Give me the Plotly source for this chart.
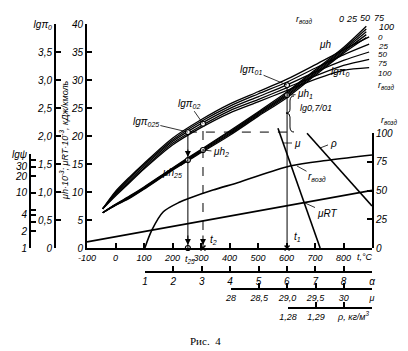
import math
import plotly.graph_objects as go

W, H = 408, 351

# ---------------- data ----------------
T_TICKS = [-100, 0, 100, 200, 300, 400, 500, 600, 700, 800]
T_TICKTEXT = ['-100', '0', '100', '200', '300', '400', '500', '600', '700', '800']
MUH_TICKS = [0, 5, 10, 15, 20, 25, 30, 35, 40]
MUH_TICKTEXT = ['0', '5', '10', '15', '20', '25', '30', '35', '40']
LGPI_TICKS = [0, 0.5, 1.0, 1.5, 2.0, 2.5, 3.0, 3.5, 4.0]
LGPI_TICKTEXT = ['0', '0,5', '1,0', '1,5', '2,0', '2,5', '3,0', '3,5', 'lgπ<sub>0</sub>']
PSI_TICKS = [1, 2, 3, 4, 5, 10, 20, 30, 40, 51]
PSI_TICKTEXT = ['1', '2', ' ', '4', ' ', '10', '20', '30', ' ', 'lgψ']
R_TICKS = [0, 25, 50, 75, 100]
R_TICKTEXT = ['0', '25', '50', '75', '100']
ALPHA_TICKS = [1, 2, 3, 4, 5, 6, 7, 8, 9]
ALPHA_TICKTEXT = ['1', '2', '3', '4', '5', '6', '7', '8', 'α']
MU_TICKS = [28, 28.5, 29, 29.5, 30, 30.5]
MU_TICKTEXT = ['28', '28,5', '29,0', '29,5', '30', 'μ']
RHO_TICKS = [1.28, 1.29, 1.30, 1.31]
RHO_TICKTEXT = ['1,28', '1,29', ' ', ' ']

R_LABELS = ['0', '25', '50', '75', '100']

T_LGPI = [-45, 0, 50, 100, 200, 300, 400, 500, 600, 700, 800, 890]
LGPI_R0 = [0.70, 1.01, 1.27, 1.51, 1.96, 2.29, 2.57, 2.79, 3.01, 3.27, 3.54, 3.77]
LGPI_R25 = [0.70, 0.99, 1.25, 1.49, 1.93, 2.26, 2.53, 2.75, 2.96, 3.21, 3.45, 3.64]
LGPI_R50 = [0.70, 0.97, 1.22, 1.46, 1.90, 2.22, 2.49, 2.70, 2.91, 3.14, 3.35, 3.50]
LGPI_R75 = [0.70, 0.95, 1.19, 1.43, 1.87, 2.18, 2.45, 2.65, 2.86, 3.07, 3.26, 3.37]
LGPI_R100 = [0.70, 0.93, 1.17, 1.41, 1.84, 2.15, 2.41, 2.61, 2.81, 3.01, 3.17, 3.22]

T_MUH = [-45, 0, 50, 100, 200, 300, 400, 500, 600, 700, 800, 880]
MUH_R0 = [6.3, 7.8, 9.3, 10.9, 14.3, 17.6, 20.9, 24.3, 27.8, 31.8, 35.8, 39.6]
MUH_R25 = [6.3, 7.75, 9.2, 10.8, 14.2, 17.45, 20.7, 24.1, 27.55, 31.55, 35.55, 39.1]
MUH_R50 = [6.3, 7.7, 9.1, 10.7, 14.1, 17.3, 20.5, 23.9, 27.3, 31.3, 35.3, 38.6]
MUH_R75 = [6.3, 7.65, 9.0, 10.6, 14.0, 17.15, 20.3, 23.7, 27.05, 31.05, 35.05, 38.1]
MUH_R100 = [6.3, 7.6, 8.9, 10.5, 13.9, 17.0, 20.1, 23.5, 26.8, 30.8, 34.8, 37.6]

T_R_AIR = [103, 128, 167, 226, 261, 342, 437, 612, 753, 900]
R_AIR = [0, 15.7, 31.3, 40, 43.5, 50.4, 57.4, 71.3, 76.5, 80.9]

T_MURT = [-100, 900]
MURT = [1.1, 10.3]
T_MU = [570, 718]
MU_V = [21.4, 0]
T_RHO = [672, 900]
RHO_V = [20.5, 7.5]

T25, T2, T1 = 254, 307, 602
LGPI025, LGPI02, LGPI01 = 2.07, 2.22, 2.91
MUH25, MUH2, MUH1 = 15.7, 17.5, 27.3

# ---------------- figure ----------------
BLACK = 'black'
FONT = dict(family='Liberation Sans', size=10, color=BLACK, style='italic')
TFONT = dict(FONT, size=9)
LW = 1.3

fig = go.Figure()

for vals in [LGPI_R0, LGPI_R25, LGPI_R50, LGPI_R75, LGPI_R100]:
    fig.add_trace(go.Scatter(x=T_LGPI, y=vals, mode='lines', xaxis='x', yaxis='y2',
                             line=dict(color=BLACK, width=LW, shape='spline', smoothing=0.8),
                             hoverinfo='skip', showlegend=False))
for vals in [MUH_R0, MUH_R25, MUH_R50, MUH_R75, MUH_R100]:
    fig.add_trace(go.Scatter(x=T_MUH, y=vals, mode='lines', xaxis='x', yaxis='y',
                             line=dict(color=BLACK, width=LW, shape='spline', smoothing=0.8),
                             hoverinfo='skip', showlegend=False))

fig.add_trace(go.Scatter(x=T_R_AIR, y=R_AIR, mode='lines', xaxis='x', yaxis='y4',
                         line=dict(color=BLACK, width=1.6, shape='spline', smoothing=0.9),
                         hoverinfo='skip', showlegend=False))
for tx, ty in [(T_MURT, MURT), (T_MU, MU_V), (T_RHO, RHO_V)]:
    fig.add_trace(go.Scatter(x=tx, y=ty, mode='lines', xaxis='x', yaxis='y',
                             line=dict(color=BLACK, width=1.6),
                             hoverinfo='skip', showlegend=False))

# construction lines
fig.add_trace(go.Scatter(x=[T25, T25], y=[0, LGPI025], mode='lines', xaxis='x', yaxis='y2',
                         line=dict(color=BLACK, width=1), hoverinfo='skip', showlegend=False))
fig.add_trace(go.Scatter(x=[T2, T2], y=[0, LGPI02], mode='lines', xaxis='x', yaxis='y2',
                         line=dict(color=BLACK, width=1, dash='dash'), hoverinfo='skip', showlegend=False))
fig.add_trace(go.Scatter(x=[T1, T1], y=[0, LGPI01], mode='lines', xaxis='x', yaxis='y2',
                         line=dict(color=BLACK, width=1), hoverinfo='skip', showlegend=False))
fig.add_trace(go.Scatter(x=[T25, T1], y=[LGPI025, LGPI025], mode='lines', xaxis='x', yaxis='y2',
                         line=dict(color=BLACK, width=1, dash='dash'), hoverinfo='skip', showlegend=False))

# marked points
MK = dict(symbol='circle', size=5, color='white', line=dict(color=BLACK, width=1.2))
fig.add_trace(go.Scatter(x=[T25, T2, T1], y=[LGPI025, LGPI02, LGPI01], mode='markers',
                         xaxis='x', yaxis='y2', marker=MK, hoverinfo='skip', showlegend=False))
fig.add_trace(go.Scatter(x=[T25, T2, T1], y=[MUH25, MUH2, MUH1], mode='markers',
                         xaxis='x', yaxis='y', marker=MK, hoverinfo='skip', showlegend=False, cliponaxis=False))
fig.add_trace(go.Scatter(x=[T25], y=[0], mode='markers', xaxis='x', yaxis='y', marker=MK,
                         hoverinfo='skip', showlegend=False, cliponaxis=False))
fig.add_trace(go.Scatter(x=[T2, T1], y=[0, 0], mode='markers', xaxis='x', yaxis='y',
                         marker=dict(symbol='x-thin', size=5, line=dict(color=BLACK, width=1.5)),
                         hoverinfo='skip', showlegend=False, cliponaxis=False))

# dummy traces so the extra axes get their subplots
for xa, ya in [('x', 'y3'), ('x2', 'y'), ('x3', 'y'), ('x4', 'y')]:
    fig.add_trace(go.Scatter(x=[None], y=[None], xaxis=xa, yaxis=ya, mode='lines',
                             hoverinfo='skip', showlegend=False))

AX = dict(showgrid=False, zeroline=False, showline=True, linecolor=BLACK, linewidth=2,
          ticks='inside', tickcolor=BLACK, tickwidth=1.5, ticklen=5, tickfont=FONT,
          fixedrange=True, automargin=False, tickmode='array')

def yb(py):
    return 1 - py / H

fig.update_layout(
    template='none', width=W, height=H, autosize=False,
    margin=dict(l=0, r=0, t=0, b=0),
    paper_bgcolor='white', plot_bgcolor='rgba(0,0,0,0)', showlegend=False,
    xaxis=dict(AX, domain=[87 / W, 372 / W], range=[-100, 900], anchor='y',
               tickvals=T_TICKS, ticktext=T_TICKTEXT, tickfont=TFONT),
    yaxis=dict(AX, domain=[yb(248), yb(24)], range=[0, 40], anchor='x',
               tickvals=MUH_TICKS, ticktext=MUH_TICKTEXT),
    yaxis2=dict(AX, overlaying='y', anchor='free', position=55 / W, side='left',
                range=[0, 4], tickvals=LGPI_TICKS, ticktext=LGPI_TICKTEXT),
    yaxis3=dict(AX, anchor='free', position=30 / W, side='left', type='log',
                domain=[yb(248), yb(154)], range=[0, math.log10(51)],
                tickvals=PSI_TICKS, ticktext=PSI_TICKTEXT),
    yaxis4=dict(AX, anchor='x', side='right', domain=[yb(248), yb(133)], range=[0, 100],
                tickvals=R_TICKS, ticktext=R_TICKTEXT),
    xaxis2=dict(AX, anchor='free', position=yb(272), domain=[145 / W, 372 / W], range=[1, 9],
                tickvals=ALPHA_TICKS, ticktext=ALPHA_TICKTEXT),
    xaxis3=dict(AX, anchor='free', position=yb(289), domain=[231 / W, 372 / W], range=[28, 30.5],
                tickvals=MU_TICKS, ticktext=MU_TICKTEXT, tickfont=TFONT),
    xaxis4=dict(AX, anchor='free', position=yb(308), domain=[288 / W, 372 / W], range=[1.28, 1.31],
                tickvals=RHO_TICKS, ticktext=RHO_TICKTEXT, tickfont=TFONT),
)

anns = []

def txt(text, px, py, size=10, angle=0, family=None, style='italic', xanchor='center'):
    f = dict(FONT, size=size, style=style)
    if family:
        f['family'] = family
    anns.append(dict(text=text, x=px / W, y=yb(py), xref='paper', yref='paper', showarrow=False,
                     font=f, xanchor=xanchor, yanchor='middle', textangle=angle))

def lead(text, x, y, xref, yref, dx, dy, size=10):
    anns.append(dict(text=text, x=x, y=y, xref=xref, yref=yref, ax=dx, ay=dy, showarrow=True,
                     arrowhead=0, arrowwidth=0.8, arrowcolor=BLACK, font=dict(FONT, size=size)))

def arrow(x, y, xref, yref, dy):
    anns.append(dict(text='', x=x, y=y, xref=xref, yref=yref, ax=0, ay=dy, showarrow=True,
                     arrowhead=2, arrowsize=1.2, arrowwidth=1, arrowcolor=BLACK, standoff=3))

lead('lgπ<sub>025</sub>', T25, LGPI025, 'x', 'y2', -42, -10)
lead('lgπ<sub>02</sub>', T2, LGPI02, 'x', 'y2', -14, -20)
lead('lgπ<sub>01</sub>', T1, LGPI01, 'x', 'y2', -36, -15)
lead('μh<sub>1</sub>', T1, MUH1, 'x', 'y', 18, -1)
lead('μh<sub>2</sub>', T2, MUH2, 'x', 'y', 18, 2)
lead('μh<sub>25</sub>', T25, MUH25, 'x', 'y', -16, 13)

lead('μ', 283 / W, yb(143), 'paper', 'paper', 14, 0)
lead('ρ', 320 / W, yb(148), 'paper', 'paper', 13, -5)
lead('r<sub>возд</sub>', 297 / W, yb(166), 'paper', 'paper', 20, 11)
lead('μRT', 305 / W, yb(203), 'paper', 'paper', 22, 10)

arrow(T25, 0, 'x', 'y', -14)
arrow(T2, 0, 'x', 'y', -14)
arrow(T25, MUH25, 'x', 'y', -12)

txt('lg0,7/01', 298, 108, size=9, xanchor='left')
txt('t<sub>2</sub>', 213, 240)
txt('t<sub>1</sub>', 297, 237)
txt('t<sub>25</sub>', 190, 259, size=9)
txt('t,°C', 365, 257, size=9)
txt('ρ, кг/м<sup>3</sup>', 353, 316, size=9)
txt('μh', 325, 44)
txt('lgπ<sub>0</sub>', 340, 72)
txt('r<sub>возд</sub>', 304, 20, size=9)
for lab, px, py in zip(R_LABELS, [341, 352, 365, 379, 386], [19, 19, 18, 18, 27]):
    txt(lab, px, py, size=9)
for lab, py in zip(R_LABELS, [37, 46, 55, 64, 73]):
    txt(lab, 376, py, size=8, xanchor='left')
txt('r<sub>возд</sub>', 386, 86, size=9)
txt('r<sub>возд</sub>', 389, 121, size=9)
txt('μh·10<sup>-3</sup>; μRT·10<sup>-3</sup>, кДж/кмоль', 64, 140, size=9, angle=-90)
txt('Рис.  4', 205, 341, size=11, family='Liberation Serif', style='normal')

fig.update_layout(annotations=anns)

# brace next to lg0,7/01
def P(px, py):
    return f'{px / W:.5f},{yb(py):.5f}'

brace = (f'M {P(294, 96)} Q {P(290, 96)} {P(290, 101)} L {P(290, 109)} '
         f'Q {P(290, 113)} {P(286, 113)} Q {P(290, 113)} {P(290, 117)} '
         f'L {P(290, 127)} Q {P(290, 132)} {P(294, 132)}')
fig.add_shape(type='path', path=brace, xref='paper', yref='paper', line=dict(color=BLACK, width=1))

fig.write_html('out.html', config={'displayModeBar': False})
